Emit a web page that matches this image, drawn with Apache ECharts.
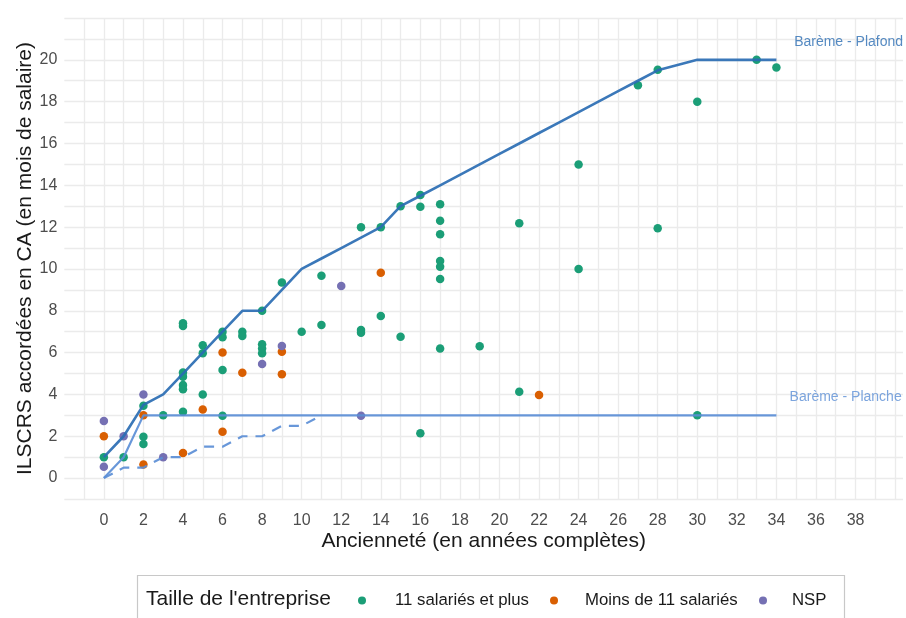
<!DOCTYPE html>
<html><head><meta charset="utf-8">
<script src="https://cdn.jsdelivr.net/npm/echarts@6/dist/echarts.min.js"></script>
<style>html,body{margin:0;padding:0;background:#fff}#c{width:906px;height:618px}</style>
</head><body><div id="c"></div>
<script>
// ---- data ----
const xTicks = [0,2,4,6,8,10,12,14,16,18,20,22,24,26,28,30,32,34,36,38];
const yTicks = [0,2,4,6,8,10,12,14,16,18,20];

const seriesNames = ["11 salariés et plus", "Moins de 11 salariés", "NSP"];

const green = [
  [0,1.0],[1,1.0],
  [2,3.46],[2,1.98],[2,1.63],
  [3,3.0],
  [4,7.4],[4,7.27],[4,5.05],[4,4.85],[4,4.45],[4,4.25],[4,3.17],
  [5,6.35],[5,5.97],[5,4.0],
  [6,7.0],[6,6.73],[6,5.17],[6,2.98],
  [7,7.0],[7,6.8],
  [8,8.0],[8,6.4],[8,6.2],[8,5.97],
  [9,9.35],
  [10,7.0],
  [11,9.67],[11,7.32],
  [13,12.0],[13,7.08],[13,6.95],
  [14,12.0],[14,7.75],
  [15,13.0],[15,6.76],
  [16,13.54],[16,12.98],[16,2.14],
  [17,13.09],[17,12.3],[17,11.66],[17,10.38],[17,10.11],[17,9.52],[17,6.2],
  [19,6.3],
  [21,12.19],[21,4.13],
  [24,15.0],[24,10.0],
  [27,18.79],
  [28,19.52],[28,11.95],
  [30,18.0],[30,3.01],
  [33,20.0],
  [34,19.63]
];
const orange = [
  [0,2.0],
  [2,3.0],[2,0.65],
  [4,1.2],
  [5,3.28],
  [6,6.0],[6,2.22],
  [7,5.04],
  [9,6.04],[9,4.96],
  [14,9.82],
  [22,3.97]
];
const purple = [
  [0,2.73],[0,0.54],
  [1,2.0],
  [2,4.0],
  [3,1.0],
  [8,5.45],
  [9,6.32],
  [12,9.19],
  [13,2.98]
];

const plafond = [[0,1],[1,2],[2,3.5],[3,4],[4,5],[5,6],[6,7],[7,8],[8,8],[9,9],[10,10],
  [11,10.5],[12,11],[13,11.5],[14,12],[15,13],[16,13.5],[17,14],[18,14.5],[19,15],[20,15.5],
  [21,16],[22,16.5],[23,17],[24,17.5],[25,18],[26,18.5],[27,19],[28,19.5],[30,20],[34,20]];
const planche = [[0,0],[1,1],[2,3],[34,3]];
const plancheMoins11 = [[0,0],[1,0.5],[2,0.5],[3,1],[4,1],[5,1.5],[6,1.5],[7,2],[8,2],[9,2.5],[10,2.5],[11,3]];

const lineLabels = ["Barème - Plafond", "Barème - Planche"];
const lineLabelPos = [[37.65,20.85],[37.5,3.85]];

// ---- styles ----
const COL_GREEN = "#1b9e77", COL_ORANGE = "#d95f02", COL_PURPLE = "#7570b3";
const COL_PLAF = "#2a6db3", COL_PLAN = "#5b8ed6";
const FONT = "Liberation Sans, Arial, sans-serif";

const chart = echarts.init(document.getElementById('c'), null, {renderer:'canvas'});

function scatter(name, data, color){
  return {
    name, type:'scatter', data, symbol:'circle', symbolSize:8.5, z:2,
    itemStyle:{color, opacity:1}, silent:true
  };
}
function legendFor(i, left, pad){
  return {data:[seriesNames[i]], left, top:587, itemWidth:8, itemHeight:8, icon:'circle',
    textStyle:{fontSize:16.8, fontFamily:FONT, color:'#1a1a1a', padding:[0,0,0,pad]}};
}

const option = {
  backgroundColor:'#fff',
  animation:false,
  grid:{left:64.3, right:0.5, top:18, height:481, containLabel:false},
  xAxis:{
    type:'value', min:-2, max:40.4, interval:1,
    axisLine:{show:false}, axisTick:{show:false},
    splitLine:{show:true, showMinLine:false, showMaxLine:false, lineStyle:{color:'#ebebeb', width:1.3}},
    axisLabel:{
      color:'#4d4d4d', fontSize:16, fontFamily:FONT, margin:14,
      formatter: v => xTicks.indexOf(Math.round(v*100)/100) >= 0 ? String(v) : ''
    },
    name:'Ancienneté (en années complètes)', nameLocation:'middle', nameGap:32,
    nameMoveOverlap:false,
    nameTextStyle:{color:'#1a1a1a', fontSize:21, fontFamily:FONT}
  },
  yAxis:{
    type:'value', min:-1, max:22, interval:1,
    axisLine:{show:false}, axisTick:{show:false},
    splitLine:{show:true, lineStyle:{color:'#ebebeb', width:1.3}},
    axisLabel:{
      color:'#4d4d4d', fontSize:16, fontFamily:FONT, margin:7,
      formatter: v => yTicks.indexOf(Math.round(v*100)/100) >= 0 ? String(v) : ''
    },
    name:'ILSCRS accordées en CA (en mois de salaire)', nameLocation:'middle', nameGap:29,
    nameRotate:90, nameMoveOverlap:false,
    nameTextStyle:{color:'#1a1a1a', fontSize:21, fontFamily:FONT}
  },
  legend:[ legendFor(0, 353, 24), legendFor(1, 545, 22), legendFor(2, 754, 20) ],
  graphic:[
    {type:'rect', left:135, top:573, shape:{width:707, height:60},
     style:{fill:'none', stroke:'#c8c8c8', lineWidth:1.2}, silent:true},
    {type:'text', left:146, top:589, style:{text:"Taille de l'entreprise", fill:'#1a1a1a', fontSize:21, fontFamily:FONT}, silent:true}
  ],
  series:[
    scatter(seriesNames[0], green, COL_GREEN),
    scatter(seriesNames[1], orange, COL_ORANGE),
    scatter(seriesNames[2], purple, COL_PURPLE),
    {type:'line', data:plafond, symbol:'none', z:3, silent:true,
     lineStyle:{color:COL_PLAF, width:2.6, opacity:0.92}},
    {type:'line', data:planche, symbol:'none', z:3, silent:true,
     lineStyle:{color:COL_PLAN, width:2.2, opacity:0.92}},
    {type:'line', data:plancheMoins11, symbol:'none', z:3, silent:true,
     lineStyle:{color:COL_PLAN, width:2.2, type:[10,8], opacity:0.92}},
    {type:'scatter', symbolSize:0, z:4, silent:true,
     data: lineLabels.map((t,i)=>({name:t, value:lineLabelPos[i],
       label:{color: i===0 ? COL_PLAF : COL_PLAN}})),
     label:{show:true, position:'inside', formatter:p=>p.name, fontSize:14, fontFamily:FONT}
    }
  ]
};
chart.setOption(option);
</script>
</body></html>
